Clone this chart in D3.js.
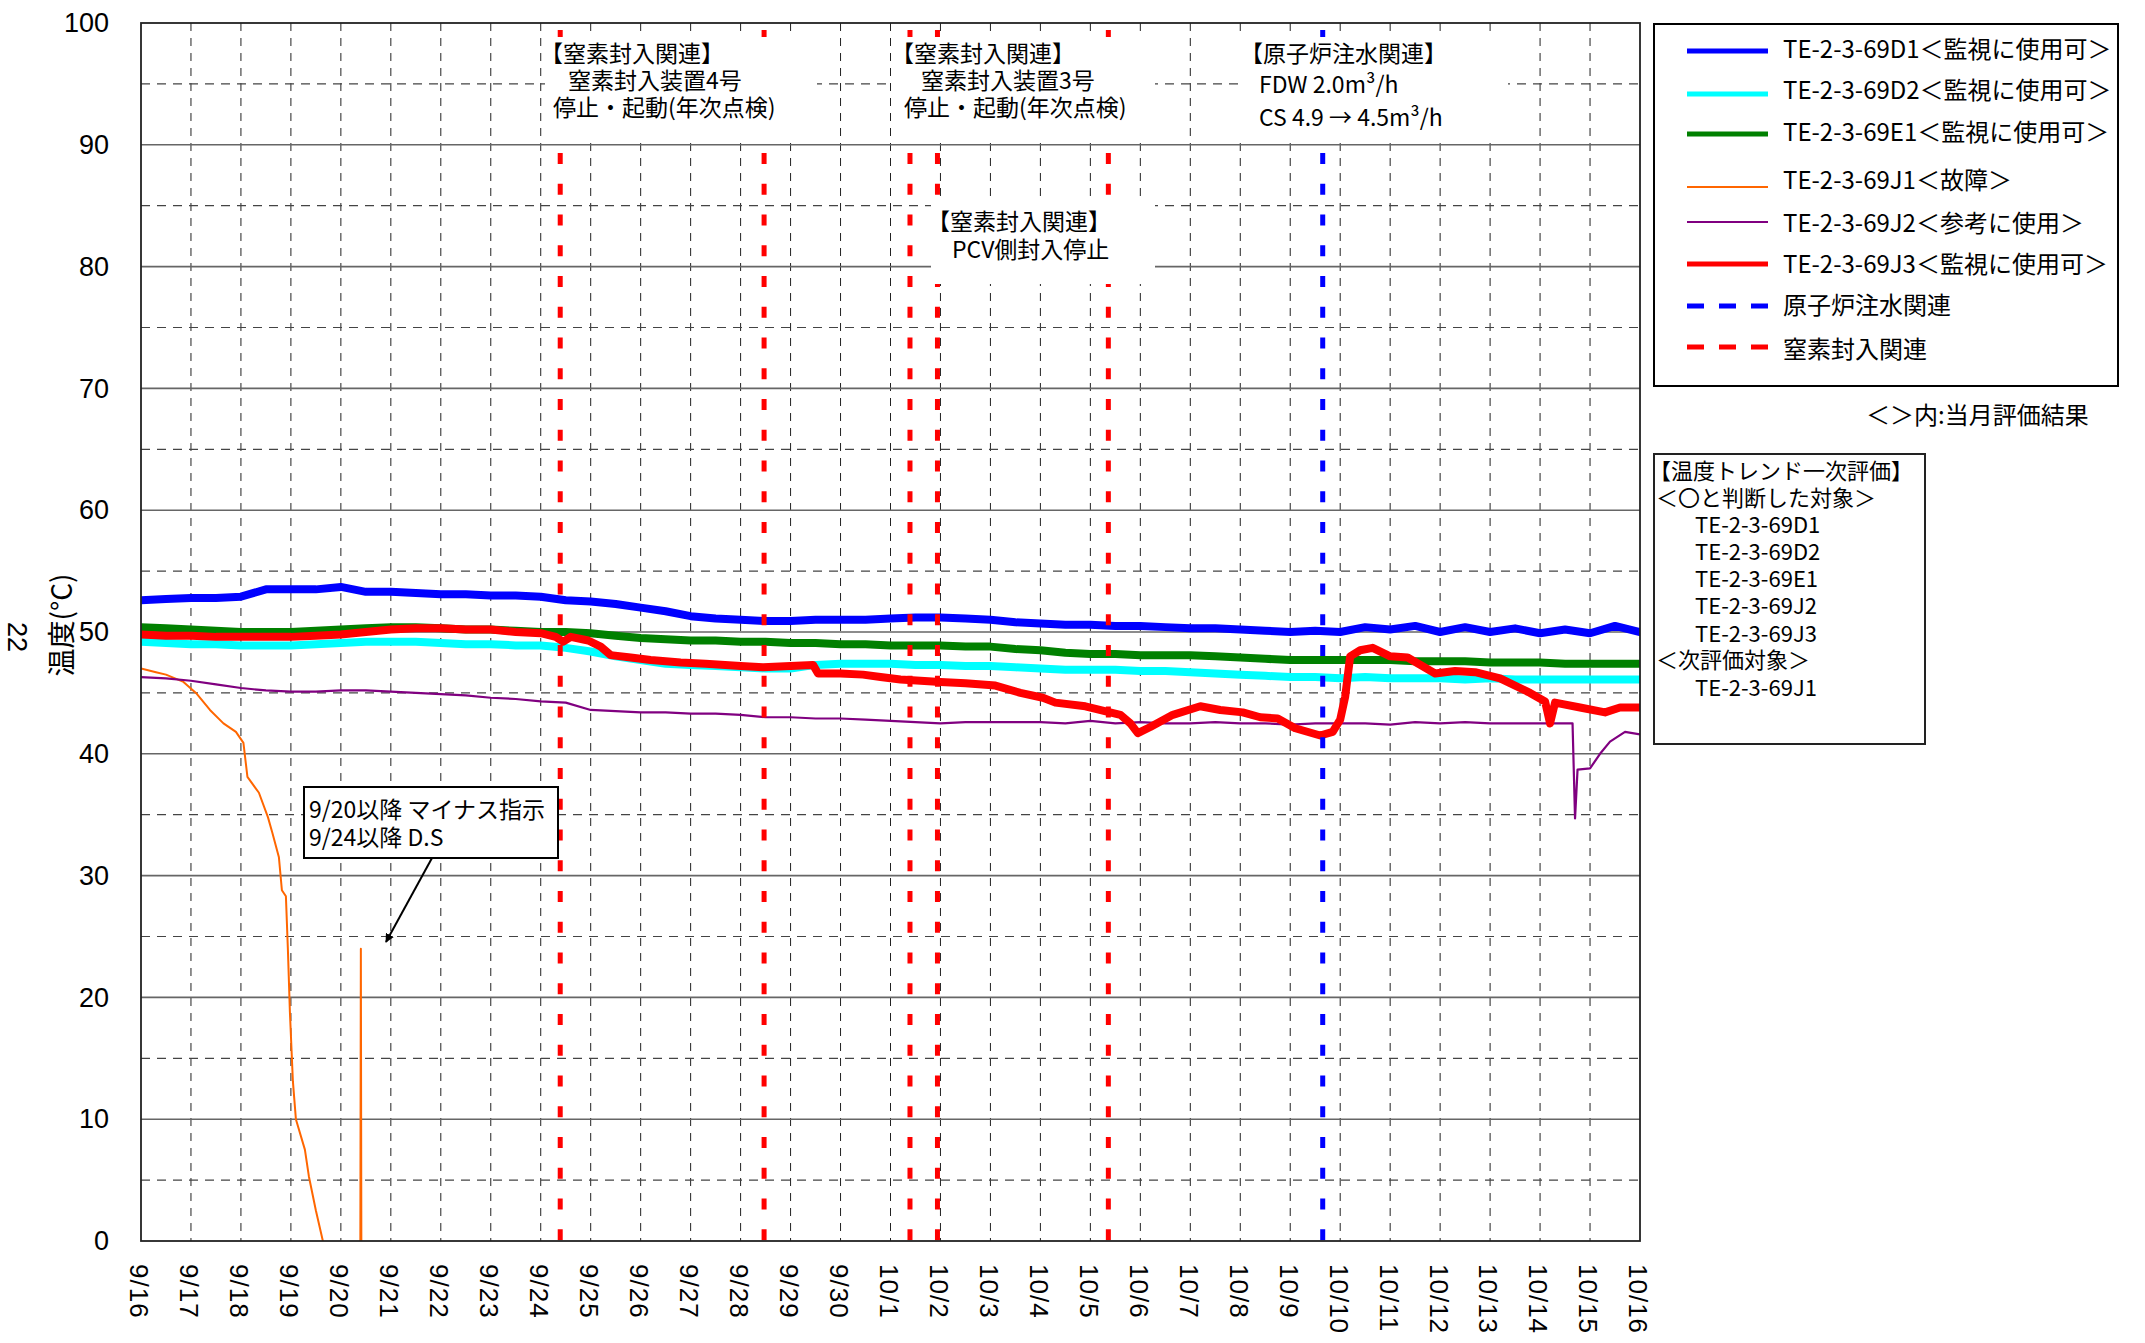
<!DOCTYPE html>
<html lang="ja">
<head>
<meta charset="utf-8">
<script src="https://cdn.jsdelivr.net/npm/d3@7/dist/d3.min.js"></script>
<style>
  body { margin: 0; background: #fff; }
  svg { display: block; }
  text { font-family: "Noto Sans CJK JP", "Liberation Sans", sans-serif; fill: #000; }
  .num { font-family: "Liberation Sans", Arial, sans-serif; }
</style>
</head>
<body>
<script>
// ---- data (days counted from 9/16 0:00) ----
const dayLabels = ['9/16','9/17','9/18','9/19','9/20','9/21','9/22','9/23','9/24','9/25','9/26','9/27','9/28','9/29','9/30',
  '10/1','10/2','10/3','10/4','10/5','10/6','10/7','10/8','10/9','10/10','10/11','10/12','10/13','10/14','10/15','10/16'];
const tickDays = [0,1,2,3,4,5,6,7,8,9,10,11,12,13,14,15,16,17,18,19,20,21,22,23,24,25,26,27,28,29,30];
const majorTemps = [0,10,20,30,40,50,60,70,80,90,100];
const minorTemps = [5,15,25,35,45,55,65,75,85,95];

const sampleDays = [0,0.5,1,1.5,2,2.5,3,3.5,4,4.5,5,5.5,6,6.5,7,7.5,8,8.5,9,9.5,10,10.5,11,11.5,12,12.5,13,13.5,14,14.5,
  15,15.5,16,16.5,17,17.5,18,18.5,19,19.5,20,20.5,21,21.5,22,22.5,23,23.5,24,24.5,25,25.5,26,26.5,27,27.5,28,28.5,29,29.5,30];

const d1Temps = [52.6,52.7,52.8,52.8,52.9,53.5,53.5,53.5,53.7,53.3,
  53.3,53.2,53.1,53.1,53.0,53.0,52.9,52.6,52.5,52.3,
  52.0,51.7,51.3,51.1,51.0,50.9,50.9,51.0,51.0,51.0,
  51.1,51.2,51.2,51.1,51.0,50.8,50.7,50.6,50.6,50.5,
  50.5,50.4,50.3,50.3,50.2,50.1,50.0,50.1,50.0,50.4,
  50.2,50.5,50.0,50.4,50.0,50.3,49.9,50.2,49.9,50.5,50.0];

const d2Temps = [49.2,49.1,49.0,49.0,48.9,48.9,48.9,49.0,49.1,49.2,
  49.2,49.2,49.1,49.0,49.0,48.9,48.9,48.7,48.4,48.0,
  47.7,47.4,47.3,47.2,47.1,47.0,47.0,47.3,47.4,47.4,
  47.4,47.3,47.3,47.2,47.2,47.1,47.0,46.9,46.9,46.9,
  46.8,46.8,46.7,46.6,46.5,46.4,46.3,46.3,46.2,46.3,
  46.2,46.2,46.2,46.1,46.2,46.1,46.1,46.1,46.1,46.1,46.1];

const e1Temps = [50.4,50.3,50.2,50.1,50.0,50.0,50.0,50.1,50.2,50.3,
  50.4,50.4,50.3,50.2,50.2,50.1,50.0,50.0,49.9,49.7,
  49.5,49.4,49.3,49.3,49.2,49.2,49.1,49.1,49.0,49.0,
  48.9,48.9,48.9,48.8,48.8,48.6,48.5,48.3,48.2,48.2,
  48.1,48.1,48.1,48.0,47.9,47.8,47.7,47.7,47.7,47.7,
  47.7,47.6,47.6,47.6,47.5,47.5,47.5,47.4,47.4,47.4,47.4];

const j1Days = [0,0.3,0.5,0.85,1.1,1.38,1.65,1.9,2.05,2.13,2.36,2.54,2.63,2.76,2.82,2.9,2.94,2.98,3.04,3.1,3.28,3.36,3.5,3.64,
  3.65,4.39,4.40,4.41];
const j1Temps = [47.0,46.7,46.5,45.9,45.0,43.6,42.5,41.8,40.9,38.1,36.8,34.8,33.5,31.5,28.8,28.3,23.9,18.8,13.1,10.0,7.5,5.3,2.5,0,
  null,0,24.0,0];

const j2Days = [0,0.5,1,1.5,2,2.5,3,3.5,4,4.5,5,5.5,6,6.5,7,7.5,8,8.5,9,9.5,10,10.5,11,11.5,12,12.5,13,13.5,14,14.5,
  15,15.5,16,16.5,17,17.5,18,18.5,19,19.5,20,20.5,21,21.5,22,22.5,23,23.5,24,24.5,25,25.5,26,26.5,27,27.5,28,28.5,
  28.65,28.7,28.75,29,29.2,29.4,29.7,30];
const j2Temps = [46.3,46.2,46.0,45.7,45.4,45.2,45.1,45.1,45.2,45.2,
  45.1,45.0,44.9,44.8,44.6,44.5,44.3,44.2,43.6,43.5,
  43.4,43.4,43.3,43.3,43.2,43.0,43.0,42.9,42.9,42.8,
  42.7,42.6,42.5,42.6,42.6,42.6,42.6,42.5,42.7,42.5,
  42.6,42.5,42.5,42.6,42.5,42.5,42.4,42.5,42.5,42.5,
  42.4,42.6,42.5,42.6,42.5,42.5,42.5,42.5,
  42.5,34.7,38.7,38.8,40.0,41.0,41.8,41.6];

const j3Days = [0,0.5,1,1.5,2,2.5,3,3.5,4,4.5,5,5.5,6,6.5,7,7.5,8,8.3,8.45,8.6,8.95,9.2,9.4,9.8,10.2,10.8,11.3,12,12.45,13,
  13.45,13.55,14,14.45,14.8,15.2,16,16.5,17.1,17.6,18.05,18.3,18.9,19.6,19.8,19.95,20.2,20.65,21.2,21.6,22.05,22.4,22.75,
  23.1,23.6,23.85,24.0,24.1,24.2,24.4,24.65,25.0,25.35,25.9,26.3,26.7,27.2,27.8,28.1,28.2,28.3,28.8,29.3,29.6,30];
const j3Temps = [49.8,49.7,49.7,49.6,49.6,49.6,49.6,49.7,49.8,50.0,50.2,50.3,50.3,50.2,50.2,50.0,49.9,49.6,49.2,49.6,49.3,48.8,48.1,47.9,47.7,47.5,47.4,47.2,47.1,47.2,
  47.3,46.6,46.6,46.5,46.3,46.1,45.9,45.8,45.6,45.0,44.6,44.2,43.9,43.2,42.5,41.7,42.2,43.2,43.9,43.6,43.4,43.0,42.9,
  42.1,41.5,41.8,42.8,44.7,48.0,48.5,48.7,48.0,47.9,46.6,46.8,46.7,46.2,45.0,44.3,42.5,44.2,43.8,43.4,43.8,43.8];

const nitrogenEventDays = [8.39, 12.47, 15.39, 15.94, 19.36];
const injectionEventDays = [23.65];

const seriesKeys = ['D1','D2','E1','J1','J2','J3'];
const legendLabels = ['TE-2-3-69D1＜監視に使用可＞','TE-2-3-69D2＜監視に使用可＞','TE-2-3-69E1＜監視に使用可＞',
  'TE-2-3-69J1＜故障＞','TE-2-3-69J2＜参考に使用＞','TE-2-3-69J3＜監視に使用可＞','原子炉注水関連','窒素封入関連'];
const evalLines = ['【温度トレンド一次評価】','＜〇と判断した対象＞','TE-2-3-69D1','TE-2-3-69D2','TE-2-3-69E1',
  'TE-2-3-69J2','TE-2-3-69J3','＜次評価対象＞','TE-2-3-69J1'];

document.addEventListener('DOMContentLoaded', () => {
  drawTrend();
});

const drawTrend = () => {
  const size = {width: 2145, height: 1343};
  const plot = {left: 141, right: 1640, top: 23, bottom: 1241};

  const styles = {
    D1: {color: '#0000ff', width: 8},
    D2: {color: '#00ffff', width: 8},
    E1: {color: '#008000', width: 8},
    J1: {color: '#ff6600', width: 2},
    J2: {color: '#800080', width: 2.2},
    J3: {color: '#ff0000', width: 8}
  };

  const series = {
    D1: sampleDays.map((t, i) => ({t, v: d1Temps[i]})),
    D2: sampleDays.map((t, i) => ({t, v: d2Temps[i]})),
    E1: sampleDays.map((t, i) => ({t, v: e1Temps[i]})),
    J1: j1Days.map((t, i) => ({t, v: j1Temps[i]})),
    J2: j2Days.map((t, i) => ({t, v: j2Temps[i]})),
    J3: j3Days.map((t, i) => ({t, v: j3Temps[i]}))
  };

  const svg = d3.select('body')
    .append('svg')
    .attr('width', size.width)
    .attr('height', size.height);

  const xScale = d3.scaleLinear().domain([0, 30]).range([plot.left, plot.right]);
  const yScale = d3.scaleLinear().domain([0, 100]).range([plot.bottom, plot.top]);

  svg.append('defs').append('clipPath')
    .attr('id', 'plot-clip')
    .append('rect')
    .attr('x', plot.left).attr('y', plot.top)
    .attr('width', plot.right - plot.left).attr('height', plot.bottom - plot.top);

  // grid
  const grid = svg.append('g').attr('id', 'grid');
  grid.selectAll('line.vgrid')
    .data(tickDays.slice(1, -1))
    .enter().append('line')
    .attr('class', 'vgrid')
    .attr('x1', d => xScale(d)).attr('x2', d => xScale(d))
    .attr('y1', plot.top).attr('y2', plot.bottom)
    .attr('stroke', '#222').attr('stroke-width', 1)
    .attr('stroke-dasharray', '8,7');

  grid.selectAll('line.minor')
    .data(minorTemps)
    .enter().append('line')
    .attr('class', 'minor')
    .attr('x1', plot.left).attr('x2', plot.right)
    .attr('y1', d => yScale(d)).attr('y2', d => yScale(d))
    .attr('stroke', '#444').attr('stroke-width', 1.2)
    .attr('stroke-dasharray', '9,7');

  grid.selectAll('line.major')
    .data(majorTemps.slice(1, -1))
    .enter().append('line')
    .attr('class', 'major')
    .attr('x1', plot.left).attr('x2', plot.right)
    .attr('y1', d => yScale(d)).attr('y2', d => yScale(d))
    .attr('stroke', '#666').attr('stroke-width', 1.6);

  // series
  const line = d3.line()
    .defined(d => d.v != null)
    .x(d => xScale(d.t))
    .y(d => yScale(d.v));

  svg.append('g')
    .attr('id', 'series')
    .attr('clip-path', 'url(#plot-clip)')
    .selectAll('path')
    .data(seriesKeys)
    .enter().append('path')
    .attr('d', k => line(series[k]))
    .attr('fill', 'none')
    .attr('stroke', k => styles[k].color)
    .attr('stroke-width', k => styles[k].width)
    .attr('stroke-linejoin', 'round')
    .attr('stroke-linecap', 'round');

  // event markers
  const eventTop = yScale(100) + 7;
  const events = svg.append('g').attr('id', 'events');
  events.selectAll('line.n2')
    .data(nitrogenEventDays)
    .enter().append('line')
    .attr('x1', d => xScale(d)).attr('x2', d => xScale(d))
    .attr('y1', eventTop).attr('y2', plot.bottom)
    .attr('stroke', '#ff0000').attr('stroke-width', 5)
    .attr('stroke-dasharray', '11,19.75');
  events.selectAll('line.inj')
    .data(injectionEventDays)
    .enter().append('line')
    .attr('x1', d => xScale(d)).attr('x2', d => xScale(d))
    .attr('y1', eventTop).attr('y2', plot.bottom)
    .attr('stroke', '#0000ff').attr('stroke-width', 5)
    .attr('stroke-dasharray', '11,19.75');

  // multi-line text as one element
  const addBlock = (parent, rows, fontSize) => {
    const t = parent.append('text')
      .attr('dominant-baseline', 'central')
      .style('font-size', fontSize);
    rows.forEach(r => {
      t.append('tspan').attr('x', r[0]).attr('y', r[1]).text(r[2]);
    });
    return t;
  };

  // event notes
  const notes = [
    {box: [545, 37, 272, 106], lines: [[540, 52, '【窒素封入関連】'], [568, 79, '窒素封入装置4号'], [553, 106, '停止・起動(年次点検)']]},
    {box: [893, 37, 262, 106], lines: [[891, 52, '【窒素封入関連】'], [921, 79, '窒素封入装置3号'], [904, 106, '停止・起動(年次点検)']]},
    {box: [931, 197, 224, 87], lines: [[927, 220, '【窒素封入関連】'], [952, 248, 'PCV側封入停止']]},
    {box: [1238, 37, 270, 106], lines: [[1240, 52, '【原子炉注水関連】'], [1259, 83, 'FDW 2.0m³/h'], [1259, 116, 'CS 4.9 → 4.5m³/h']]}
  ];
  const noteG = svg.append('g').attr('id', 'notes');
  notes.forEach(n => {
    noteG.append('rect')
      .attr('x', n.box[0]).attr('y', n.box[1])
      .attr('width', n.box[2]).attr('height', n.box[3])
      .attr('fill', '#fff');
    addBlock(noteG, n.lines, '23px');
  });

  // frame
  svg.append('rect')
    .attr('x', plot.left).attr('y', plot.top)
    .attr('width', plot.right - plot.left).attr('height', plot.bottom - plot.top)
    .attr('fill', 'none').attr('stroke', '#222').attr('stroke-width', 1.8);

  // axes
  const yAxis = svg.append('g')
    .attr('id', 'y-axis')
    .attr('transform', `translate(${plot.left}, 0)`)
    .call(d3.axisLeft(yScale).tickValues(majorTemps).tickSize(0).tickPadding(32));
  yAxis.select('.domain').remove();
  yAxis.selectAll('text')
    .attr('class', 'num')
    .style('font-size', '27px');

  const xAxis = svg.append('g')
    .attr('id', 'x-axis')
    .attr('transform', `translate(0, ${plot.bottom})`)
    .call(d3.axisBottom(xScale).tickValues(tickDays).tickFormat(i => dayLabels[i]).tickSize(0));
  xAxis.select('.domain').remove();
  xAxis.selectAll('text')
    .attr('class', 'num')
    .attr('x', 0).attr('y', 0)
    .attr('dy', '0.35em')
    .attr('text-anchor', 'start')
    .attr('transform', 'translate(-2, 23) rotate(90)')
    .style('font-size', '26px')
    .style('letter-spacing', '1px');

  svg.append('text')
    .attr('transform', 'translate(60, 625) rotate(-90)')
    .attr('text-anchor', 'middle')
    .attr('dominant-baseline', 'central')
    .style('font-size', '28px')
    .text('温度(°C)');

  svg.append('text')
    .attr('class', 'num')
    .attr('transform', 'translate(17, 637) rotate(90)')
    .attr('text-anchor', 'middle')
    .attr('dominant-baseline', 'central')
    .style('font-size', '27px')
    .text('22');

  // J1 note with arrow
  svg.append('defs').append('marker')
    .attr('id', 'arrow-head')
    .attr('viewBox', '0 0 10 10')
    .attr('refX', 9).attr('refY', 5)
    .attr('markerWidth', 9).attr('markerHeight', 9)
    .attr('markerUnits', 'userSpaceOnUse')
    .attr('orient', 'auto')
    .append('path').attr('d', 'M0,0L10,5L0,10Z').attr('fill', '#000');
  svg.append('rect')
    .attr('x', 304).attr('y', 787).attr('width', 254).attr('height', 71)
    .attr('fill', '#fff').attr('stroke', '#000').attr('stroke-width', 2);
  addBlock(svg, [[309, 808, '9/20以降 マイナス指示'], [309, 836, '9/24以降 D.S']], '23px');
  svg.append('line')
    .attr('x1', 432).attr('y1', 858).attr('x2', 386).attr('y2', 942)
    .attr('stroke', '#000').attr('stroke-width', 2)
    .attr('marker-end', 'url(#arrow-head)');

  // legend
  const legendRowText = [47, 88, 130, 178, 221, 262, 303, 347];
  const legendRowLine = [51, 94, 134, 187, 222, 264, 306, 347];
  const legendStyles = [styles.D1, styles.D2, styles.E1, styles.J1, styles.J2, styles.J3,
    {color: '#0000ff', width: 5, dash: '17,15'}, {color: '#ff0000', width: 5, dash: '17,15'}];
  const legend = svg.append('g').attr('id', 'legend');
  legend.append('rect')
    .attr('x', 1654).attr('y', 24).attr('width', 464).attr('height', 362)
    .attr('fill', '#fff').attr('stroke', '#000').attr('stroke-width', 2);
  legendLabels.forEach((label, i) => {
    const st = legendStyles[i];
    legend.append('line')
      .attr('x1', 1687).attr('x2', 1768)
      .attr('y1', legendRowLine[i]).attr('y2', legendRowLine[i])
      .attr('stroke', st.color)
      .attr('stroke-width', st.width > 5 ? 5 : st.width)
      .attr('stroke-dasharray', st.dash || null);
  });
  addBlock(legend, legendLabels.map((label, i) => [1783, legendRowText[i], label]), '24px');
  svg.append('text')
    .attr('x', 1866).attr('y', 413)
    .attr('dominant-baseline', 'central')
    .style('font-size', '24px')
    .text('＜＞内:当月評価結果');

  // evaluation box
  const evalG = svg.append('g').attr('id', 'evaluation');
  evalG.append('rect')
    .attr('x', 1654).attr('y', 454).attr('width', 271).attr('height', 290)
    .attr('fill', '#fff').attr('stroke', '#222').attr('stroke-width', 2);
  const evalRowY = [469, 496, 523, 550, 577, 604, 632, 658, 686];
  addBlock(evalG, evalLines.map((t, i) => {
    const indent = t.startsWith('TE') ? 1695 : (t.startsWith('【') ? 1649 : 1656);
    return [indent, evalRowY[i], t];
  }), '22px');
};
</script>
</body>
</html>
